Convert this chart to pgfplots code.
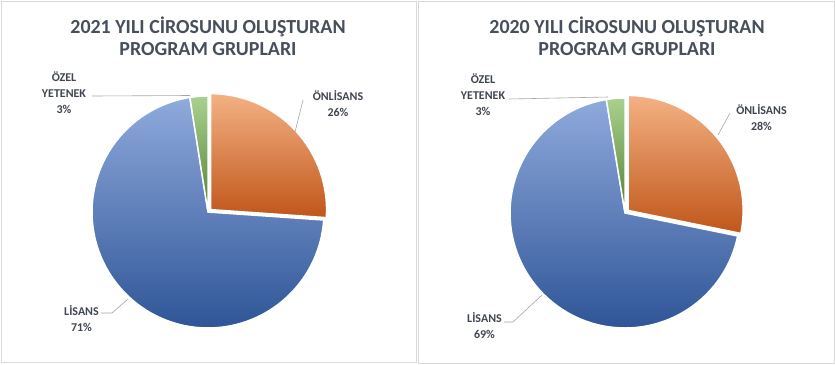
\documentclass[border=0pt]{standalone}
\usepackage{fontspec}
\setmainfont{Carlito}
\usepackage{pgfplots}
\pgfplotsset{compat=1.18}
\definecolor{orA}{HTML}{F4B183}
\definecolor{orB}{HTML}{ED7D31}
\definecolor{orC}{HTML}{C0561A}
\definecolor{blA}{HTML}{8FAADC}
\definecolor{blB}{HTML}{4472C4}
\definecolor{blC}{HTML}{2F5597}
\definecolor{grA}{HTML}{A9D18E}
\definecolor{grB}{HTML}{70AD47}
\definecolor{grC}{HTML}{548235}
\definecolor{ttl}{HTML}{464F5B}
\definecolor{lbl}{HTML}{404650}
\definecolor{frm}{HTML}{D9D9D9}
\definecolor{ldr}{HTML}{A6A6A6}
% #1 cumulative start (%), #2 value (%), #3 colour prefix, #4 explode
\newcommand{\slice}[4]{%
  \pgfmathsetmacro\aA{90-3.6*(#1)}%
  \pgfmathsetmacro\aB{90-3.6*(#1+#2)}%
  \pgfmathsetmacro\aM{(\aA+\aB)/2}%
  \pgfmathsetmacro\dx{#4*cos(\aM)}%
  \pgfmathsetmacro\dy{#4*sin(\aM)}%
  \edef\tmp{\noexpand\addplot[draw=white, line width=1.5bp, top color=#3A, middle color=#3B, bottom color=#3C, domain=\aA:\aB, samples=90, variable=\noexpand\t] ({\dx+cos(\noexpand\t)},{\dy+sin(\noexpand\t)}) -- (axis cs:\dx,\dy) -- cycle;}%
  \tmp
}
\tikzset{lab/.style={align=center, text=lbl, font=\bfseries\fontsize{12}{16}\selectfont, inner sep=0pt},
  ttlstyle/.style={align=center, text=ttl, font=\bfseries\fontsize{20}{22}\selectfont, inner sep=0pt},
  lead/.style={draw=ldr, line width=0.6bp}}
\begin{document}
\begin{tikzpicture}[x=1bp,y=1bp]
\useasboundingbox (0,0) rectangle (835,-364);
\fill[white] (0,0) rectangle (835,-364);
\draw[frm, line width=1bp] (1.5,-1.5) rectangle (416,-362.5);
\draw[frm, line width=1bp] (418.5,-1.5) rectangle (834,-363);
% ---------- 2021 ----------
\node[ttlstyle] at (208,-36) {2021 YILI CİROSUNU OLUŞTURAN\\PROGRAM GRUPLARI};
\begin{axis}[at={(208bp,-212bp)}, anchor=center, width=232bp, height=232bp,
  scale only axis, xmin=-1, xmax=1, ymin=-1, ymax=1, hide axis, clip=false]
  \slice{0}{26.1}{or}{0.03}
  \slice{26.1}{71.4}{bl}{0}
  \slice{97.5}{2.5}{gr}{0}
\end{axis}
\draw[lead] (92,-96) -- (190,-95.5);
\draw[lead] (303,-100) -- (295,-132);
\draw[lead] (101,-313) -- (112,-313) -- (128,-299);
\node[lab] at (64,-93) {ÖZEL\\YETENEK\\3\%};
\node[lab] at (338,-104) {ÖNLİSANS\\26\%};
\node[lab] at (81.5,-319) {LİSANS\\71\%};
% ---------- 2020 ----------
\node[ttlstyle] at (627,-36) {2020 YILI CİROSUNU OLUŞTURAN\\PROGRAM GRUPLARI};
\begin{axis}[at={(625bp,-213bp)}, anchor=center, width=230bp, height=230bp,
  scale only axis, xmin=-1, xmax=1, ymin=-1, ymax=1, hide axis, clip=false]
  \slice{0}{28.2}{or}{0.035}
  \slice{28.2}{69.2}{bl}{0}
  \slice{97.4}{2.6}{gr}{0}
\end{axis}
\draw[lead] (509,-99) -- (608,-97);
\draw[lead] (730,-113) -- (718,-135);
\draw[lead] (504,-322) -- (513,-322) -- (542,-295);
\node[lab] at (483,-95) {ÖZEL\\YETENEK\\3\%};
\node[lab] at (761.5,-117.5) {ÖNLİSANS\\28\%};
\node[lab] at (484.5,-326) {LİSANS\\69\%};
\end{tikzpicture}
\end{document}
